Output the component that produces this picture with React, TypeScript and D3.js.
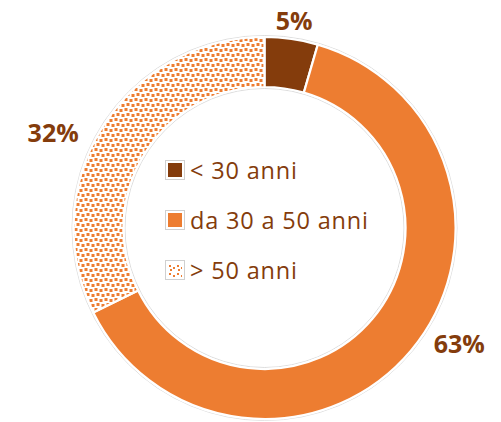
import React from "react";
import * as d3 from "d3";

const categories = ["< 30 anni", "da 30 a 50 anni", "> 50 anni"];
const values = [4.5, 63.2, 32.3];
const colors = ["#843C0C", "#ED7D31", "url(#confetti)"];

const W = 501;
const H = 422;
const cx = 264.5;
const cy = 228;
const R = 191;
const r = 141;
const textColor = "#843C0C";

// label placement tweaks (angle offset in degrees, radius)
const labelTweaks = [
  { da: 0, rad: 210 },
  { da: -9.5, rad: 226 },
  { da: -7.5, rad: 232 },
];

export default function App() {
  const pie = d3.pie<number>().sort(null).value((d) => d);
  const arcs = pie(values);
  const arcGen = d3.arc<d3.PieArcDatum<number>>().innerRadius(r).outerRadius(R);

  const legendX = 165;
  const legendBase = d3.scaleLinear().domain([0, 2]).range([179, 279]);
  const legendWidths = [107, 178, 107];

  return (
    <svg
      width={W}
      height={H}
      style={{ position: "absolute", left: 0, top: 0, background: "#fff" }}
    >
      <defs>
        <pattern id="confetti" width={10} height={10} patternUnits="userSpaceOnUse">
          <rect width={10} height={10} fill="#fff" />
          <rect x={0} y={0} width={3} height={3} fill="#ED7D31" />
          <rect x={5} y={1} width={3} height={3} fill="#ED7D31" />
          <rect x={2} y={5} width={3} height={3} fill="#ED7D31" />
          <rect x={7} y={6} width={3} height={3} fill="#ED7D31" />
        </pattern>
        <pattern id="confettiSmall" width={8} height={8} patternUnits="userSpaceOnUse">
          <rect width={8} height={8} fill="#fff" />
          <rect x={1} y={1} width={2} height={2} fill="#ED7D31" />
          <rect x={5} y={3} width={2} height={2} fill="#ED7D31" />
          <rect x={2} y={5} width={2} height={2} fill="#ED7D31" />
        </pattern>
      </defs>
      <g transform={`translate(${cx},${cy})`}>
        <circle r={R + 1.5} fill="none" stroke="#d4d4d4" strokeWidth={0.8} />
        <circle r={r - 1.5} fill="none" stroke="#d4d4d4" strokeWidth={0.8} />
        {arcs.map((a, i) => (
          <path key={i} d={arcGen(a) || ""} fill={colors[i]} stroke="#fff" strokeWidth={2.2} />
        ))}
        {arcs.map((a, i) => {
          const mid = (a.startAngle + a.endAngle) / 2 + (labelTweaks[i].da * Math.PI) / 180;
          const rad = labelTweaks[i].rad;
          const x = Math.sin(mid) * rad;
          const y = -Math.cos(mid) * rad;
          return (
            <text
              key={"l" + i}
              x={x}
              y={y}
              textAnchor="middle"
              dominantBaseline="central"
              fontFamily="'Open Sans', sans-serif"
              fontWeight={700}
              fontSize={25}
              fill={textColor}
            >
              {Math.round(values[i])}%
            </text>
          );
        })}
      </g>
      <g>
        {categories.map((c, i) => {
          const base = legendBase(i);
          return (
            <g key={c}>
              <rect
                x={legendX + 0.5}
                y={base - 18.5}
                width={19}
                height={19}
                fill="#fff"
                stroke="#d0d0d0"
                strokeWidth={1}
              />
              <rect
                x={legendX + 3}
                y={base - 16}
                width={14}
                height={14}
                fill={i === 2 ? "url(#confettiSmall)" : colors[i]}
              />
              <text
                x={legendX + 25}
                y={base}
                fontFamily="'Open Sans', sans-serif"
                fontSize={23.5}
                fill={textColor}
                textLength={legendWidths[i]}
                lengthAdjust="spacing"
              >
                {c}
              </text>
            </g>
          );
        })}
      </g>
    </svg>
  );
}
